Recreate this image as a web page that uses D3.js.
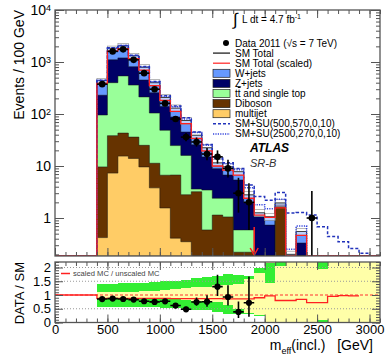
<!DOCTYPE html>
<html lang="en">
<head>
   <meta charset="UTF-8">
   <title>SR-B meff</title>
   <script src="https://cdn.jsdelivr.net/npm/d3@7"></script>
   <style>
      body { margin: 0; background: #fff; }
      svg { display: block; font-family: "Liberation Sans", Arial, Helvetica, sans-serif; }
   </style>
   <script>
      // bins of 100 GeV, lower edges
      const binLo = [0, 100, 200, 300, 400, 500, 600, 700, 800, 900, 1000, 1100, 1200, 1300, 1400, 1500,
         1600, 1700, 1800, 1900, 2000, 2100, 2200, 2300, 2400, 2500, 2600, 2700, 2800, 2900, 3000]

      // SM backgrounds (events / bin)
      const multijet = [0, 0, 0, 0, 0.42, 7.3, 15.5, 14, 9.6, 3.8, 1.56, 0.41, 0.35, 0, 0, 0,
         0, 0, 0, 0, 0, 0, 0, 0, 0, 0, 0, 0, 0, 0, 0]
      const diboson = [0, 0, 0, 0, 9.2, 31, 27.5, 22, 15.4, 7.5, 5.1, 6.3, 2.45, 3.2, 0.59, 1.14,
         1.05, 0.22, 0.22, 0, 0, 1.65, 0, 0, 0, 0, 0, 0, 0, 0, 0]
      const ttbar = [0, 0, 0, 0, 86, 362, 497, 324, 188, 93, 42, 18, 13.2, 0.4, 2.86, 1.26,
         1.35, 0.37, 0.37, 0, 0, 0, 0, 0, 0, 0, 0, 0, 0, 0, 0]
      const zjets = [0, 0, 0, 0, 134, 700, 660, 450, 237, 152, 91, 63, 29, 22, 11.5, 6.5,
         4.3, 4.8, 1.4, 1.06, 0.73, 0.15, 0, 0.33, 0, 0, 0, 0, 0, 0, 0]
      const wjets = [0, 0, 0, 0, 210, 740, 850, 510, 340, 144, 68, 42, 30, 13.4, 7.5, 2.6,
         3.0, 2.4, 0.8, 0.2, 0.33, 0.15, 0.2, 0.22, 0, 0, 0, 0, 0, 0, 0]

      // data 2011
      const data2011 = [0, 0, 0, 0, 375, 1600, 1750, 1100, 610, 300, 160, 80, 36, 29, 17, 15,
         9, 3, 2, 0, 0, 0, 0, 0, 1, 0, 0, 0, 0, 0, 0]

      // signal points stacked on SM
      const smSuA = [0, 0, 0, 0, 445, 1870, 2080, 1350, 820, 420, 225, 142, 85, 45, 26, 15,
         11.5, 9, 4.3, 2.6, 2.2, 3.1, 1.25, 1.27, 1.14, 0.68, 0.44, 0.35, 0.26, 0.21, 0]
      const smSuB = [0, 0, 0, 0, 448, 1860, 2070, 1340, 810, 415, 220, 138, 80, 44, 25, 14,
         11, 8.5, 3.8, 1.8, 1.5, 2.3, 0.25, 0.7, 0, 0, 0, 0, 0, 0, 0]

      // scaled MC / unscaled MC
      const scaledOverUnscaled = [1, 1, 1, 1, 0.88, 0.88, 0.88, 0.88, 0.88, 0.88, 0.88, 0.87, 0.87, 0.87, 0.87, 0.87,
         0.86, 0.86, 0.86, 0.9, 0.97, 0.8, 0.8, 0.84, 0.72, 0.72, 0.95, 0.98, 0.97, null, null]

      // uncertainty bands in the ratio
      const bandYellowLo = [null, null, null, null, 0.9, 0.9, 0.9, 0.9, 0.88, 0.87, 0.85, 0.84, 0.82, 0.8, 0.78, 0.75,
         0.65, 0.5, 0.35, 0.28, 0, 0, 0, 0, 0, 0, 0, 0, 0, 0, 0]
      const bandYellowHi = [null, null, null, null, 1.1, 1.1, 1.1, 1.12, 1.14, 1.15, 1.2, 1.22, 1.25, 1.3, 1.3, 1.35,
         1.35, 1.4, 1.6, 1.8, 2.2, 2.2, 2.2, 2.2, 2.2, 2.2, 2.2, 2.2, 2.2, 2.2, 2.2]
      const bandGreenLo = [null, null, null, null, 0.57, 0.57, 0.56, 0.56, 0.55, 0.55, 0.53, 0.52, 0.5, 0.45, 0.45, 0.4,
         0.3, 0.3, 0.3, 0.25, null, null, null, null, null, null, null, null, null, null, null]
      const bandGreenHi = [null, null, null, null, 1.4, 1.4, 1.42, 1.43, 1.45, 1.46, 1.5, 1.52, 1.55, 1.62, 1.65, 1.68,
         1.75, 1.72, 1.7, 2.0, null, null, null, null, null, null, null, null, null, null, null]
      const patchBin = [2000, 2100, 2500, 2500]
      const patchLo = [1.45, 2.05, 1.95, 0]
      const patchHi = [2.15, 2.2, 2.2, 0.1]

      // ticks
      const yTickMajor = [1, 10, 100, 1000, 10000]
      const rTickMajor = [0, 0.5, 1, 1.5, 2]
      const xTickMajor = [0, 500, 1000, 1500, 2000, 2500, 3000]
      const cutAt = 1900

      function visualize() {
         const W = 386, H = 357
         const BIN = 100
         const svg = d3.select('#chart').append('svg')
            .attr('width', W)
            .attr('height', H)

         // scales
         const LEFT = 55, RIGHT = 380
         const MAIN_TOP = 10, MAIN_BOTTOM = 256
         const RATIO_TOP = 262, RATIO_BOTTOM = 322.5
         const Y_MIN = 0.186
         const x = d3.scaleLinear().domain([0, 3100]).range([LEFT, RIGHT])
         const y = d3.scaleLog().domain([Y_MIN, 1e4]).range([MAIN_BOTTOM, MAIN_TOP])
         const r = d3.scaleLinear().domain([0, 2.2]).range([RATIO_BOTTOM, RATIO_TOP])
         const yc = v => y(Math.max(v, Y_MIN))
         const rc = v => r(Math.max(0, Math.min(2.2, v)))

         const steps = vals => binLo.flatMap((b, i) => [[b, vals[i]], [b + BIN, vals[i]]])

         const defs = svg.append('defs')
         defs.append('clipPath').attr('id', 'clipMain').append('rect')
            .attr('x', LEFT).attr('y', MAIN_TOP)
            .attr('width', RIGHT - LEFT).attr('height', MAIN_BOTTOM - MAIN_TOP)
         defs.append('clipPath').attr('id', 'clipRatio').append('rect')
            .attr('x', LEFT).attr('y', RATIO_TOP)
            .attr('width', RIGHT - LEFT).attr('height', RATIO_BOTTOM - RATIO_TOP)

         // ---------- main panel ----------
         const main = svg.append('g').attr('clip-path', 'url(#clipMain)')

         const layers = [
            { vals: multijet, color: '#ffcc66' },
            { vals: diboson, color: '#663300' },
            { vals: ttbar, color: '#99ff99' },
            { vals: zjets, color: '#000066' },
            { vals: wjets, color: '#6699ff' },
         ]
         let running = binLo.map(() => 0)
         layers.forEach(l => {
            running = running.map((c, i) => c + l.vals[i])
            l.cum = running
         })
         const total = running

         const area = d3.area()
            .x(d => x(d[0]))
            .y0(MAIN_BOTTOM)
            .y1(d => yc(d[1]))
         const line = d3.line()
            .x(d => x(d[0]))
            .y(d => yc(d[1]))

         layers.slice().reverse().forEach(l => {
            main.append('path')
               .datum(steps(l.cum))
               .attr('d', area)
               .attr('fill', l.color)
               .attr('stroke', '#111')
               .attr('stroke-width', 0.5)
         })

         // MC uncertainty boxes on the total
         binLo.forEach((b, i) => {
            if (total[i] <= 0 || bandYellowLo[i] == null) return
            const u = Math.min((bandYellowHi[i] - bandYellowLo[i]) / 2, 0.15)
            main.append('rect')
               .attr('x', x(b))
               .attr('width', x(b + BIN) - x(b))
               .attr('y', yc(total[i] * (1 + u)))
               .attr('height', yc(total[i] * (1 - u)) - yc(total[i] * (1 + u)))
               .attr('fill', '#fff')
               .attr('fill-opacity', 0.55)
               .attr('stroke', '#888')
               .attr('stroke-width', 0.6)
         })

         // SM total
         main.append('path')
            .datum(steps(total))
            .attr('d', line)
            .attr('fill', 'none')
            .attr('stroke', '#222')
            .attr('stroke-width', 0.8)

         // SM + SU lines
         main.append('path')
            .datum(steps(smSuB))
            .attr('d', line)
            .attr('fill', 'none')
            .attr('stroke', '#3344dd')
            .attr('stroke-width', 1.5)
            .attr('stroke-dasharray', '1.2,1.2')
         main.append('path')
            .datum(steps(smSuA))
            .attr('d', line)
            .attr('fill', 'none')
            .attr('stroke', '#2233bb')
            .attr('stroke-width', 1.5)
            .attr('stroke-dasharray', '3,2')

         // SM total scaled
         const scaledTotal = total.map((t, i) => t * (scaledOverUnscaled[i] == null ? 0 : scaledOverUnscaled[i]))
         main.append('path')
            .datum(steps(scaledTotal))
            .attr('d', line)
            .attr('fill', 'none')
            .attr('stroke', '#ff2020')
            .attr('stroke-width', 1.3)

         // cut arrow
         main.append('line')
            .attr('x1', x(cutAt)).attr('x2', x(cutAt))
            .attr('y1', y(0.67)).attr('y2', MAIN_BOTTOM - 1)
            .attr('stroke', '#ff2020').attr('stroke-width', 1.5)
         main.append('path')
            .attr('d', `M${x(cutAt) - 4},${MAIN_BOTTOM - 8}L${x(cutAt)},${MAIN_BOTTOM - 1}L${x(cutAt) + 4},${MAIN_BOTTOM - 8}`)
            .attr('fill', 'none')
            .attr('stroke', '#ff2020').attr('stroke-width', 1.5)

         // data points
         const errDn = n => n - Math.sqrt(n)
         const errUp = n => n + Math.sqrt(n + 0.75) + 1
         const obs = binLo.map((b, i) => ({ b, n: data2011[i], t: total[i] })).filter(d => d.n > 0)

         const pts = main.append('g')
         pts.selectAll('line.v').data(obs).join('line')
            .attr('x1', d => x(d.b + BIN / 2)).attr('x2', d => x(d.b + BIN / 2))
            .attr('y1', d => yc(errUp(d.n))).attr('y2', d => yc(errDn(d.n)))
            .attr('stroke', '#000').attr('stroke-width', 1.6)
         pts.selectAll('line.h').data(obs).join('line')
            .attr('x1', d => x(d.b)).attr('x2', d => x(d.b + BIN))
            .attr('y1', d => yc(d.n)).attr('y2', d => yc(d.n))
            .attr('stroke', '#000').attr('stroke-width', 1.6)
         pts.selectAll('circle').data(obs).join('circle')
            .attr('cx', d => x(d.b + BIN / 2))
            .attr('cy', d => yc(d.n))
            .attr('r', 3.3)
            .attr('fill', '#000')

         // ---------- ratio panel ----------
         const ratio = svg.append('g').attr('clip-path', 'url(#clipRatio)')
         const band = (b, lo, hi, color) => ratio.append('rect')
            .attr('x', x(b)).attr('width', x(b + BIN) - x(b))
            .attr('y', rc(hi)).attr('height', rc(lo) - rc(hi))
            .attr('fill', color)
            .attr('shape-rendering', 'crispEdges')

         binLo.forEach((b, i) => {
            if (bandYellowLo[i] == null) return
            band(b, bandYellowLo[i], bandYellowHi[i], '#ffffa8')
         })
         binLo.forEach((b, i) => {
            if (bandGreenLo[i] == null) return
            if (bandGreenHi[i] > bandYellowHi[i]) band(b, bandYellowHi[i], bandGreenHi[i], '#33ee33')
            if (bandYellowLo[i] > bandGreenLo[i]) band(b, bandGreenLo[i], bandYellowLo[i], '#33ee33')
         })
         patchBin.forEach((b, k) => band(b, patchLo[k], patchHi[k], '#33ee33'))

         // reference lines
         ;[0.5, 1.5, 2].forEach(v => {
            ratio.append('line')
               .attr('x1', LEFT).attr('x2', RIGHT)
               .attr('y1', r(v)).attr('y2', r(v))
               .attr('stroke', '#999').attr('stroke-width', 1)
               .attr('stroke-dasharray', '1,2')
         })
         ratio.append('line')
            .attr('x1', LEFT).attr('x2', RIGHT)
            .attr('y1', r(1)).attr('y2', r(1))
            .attr('stroke', '#ff3030').attr('stroke-width', 1)
            .attr('stroke-dasharray', '3,2')

         // scaled / unscaled
         const rLine = d3.line()
            .defined(d => d[1] != null)
            .x(d => x(d[0]))
            .y(d => rc(d[1]))
         ratio.append('path')
            .datum(steps(scaledOverUnscaled))
            .attr('d', rLine)
            .attr('fill', 'none')
            .attr('stroke', '#ff2020')
            .attr('stroke-width', 1.3)

         // data / SM
         const robs = obs.filter(d => d.t > 0)
         ratio.selectAll('line.v').data(robs).join('line')
            .attr('x1', d => x(d.b + BIN / 2)).attr('x2', d => x(d.b + BIN / 2))
            .attr('y1', d => rc(errUp(d.n) / d.t)).attr('y2', d => rc(errDn(d.n) / d.t))
            .attr('stroke', '#000').attr('stroke-width', 1.6)
         ratio.selectAll('line.h').data(robs).join('line')
            .attr('x1', d => x(d.b)).attr('x2', d => x(d.b + BIN))
            .attr('y1', d => rc(d.n / d.t)).attr('y2', d => rc(d.n / d.t))
            .attr('stroke', '#000').attr('stroke-width', 1.6)
         ratio.selectAll('circle').data(robs).join('circle')
            .attr('cx', d => x(d.b + BIN / 2))
            .attr('cy', d => rc(d.n / d.t))
            .attr('r', 3.1)
            .attr('fill', '#000')

         // ratio legend
         svg.append('line')
            .attr('x1', 61).attr('x2', 70).attr('y1', 273.5).attr('y2', 273.5)
            .attr('stroke', '#ff2020').attr('stroke-width', 1.5)
         svg.append('text')
            .attr('x', 73).attr('y', 276.3)
            .attr('font-size', 7.6).attr('fill', '#444')
            .text('scaled MC / unscaled MC')

         // ---------- axes ----------
         const AXIS = '#555'
         const style = g => {
            g.select('.domain').remove()
            g.selectAll('line').attr('stroke', AXIS).attr('stroke-width', 1)
            g.attr('font-family', null).attr('font-size', 13)
            g.selectAll('text').attr('fill', '#000')
         }
         const xMinor = d3.range(0, 3101, 100)
         const yMinor = []
         for (let e = -1; e < 4; e++) for (let k = 1; k < 10; k++) {
            const v = k * 10 ** e
            if (v >= Y_MIN && v <= 1e4) yMinor.push(v)
         }
         const rMinor = d3.range(0, 2.21, 0.1)

         // x ticks on both panels, top and bottom
         ;[[d3.axisBottom, MAIN_BOTTOM], [d3.axisTop, MAIN_TOP], [d3.axisBottom, RATIO_BOTTOM], [d3.axisTop, RATIO_TOP]]
            .forEach(([ax, yy]) => {
               svg.append('g').attr('transform', `translate(0,${yy})`)
                  .call(ax(x).tickValues(xMinor).tickSize(-4).tickFormat(''))
                  .call(style)
               svg.append('g').attr('transform', `translate(0,${yy})`)
                  .call(ax(x).tickValues(xTickMajor).tickSize(-8).tickFormat(''))
                  .call(style)
            })
         // x labels under the ratio panel
         svg.append('g').attr('transform', `translate(0,${RATIO_BOTTOM})`)
            .call(d3.axisBottom(x).tickValues(xTickMajor).tickSize(0).tickPadding(2).tickFormat(d3.format('d')))
            .call(style)

         // main: y ticks left and right
         ;[[d3.axisLeft, LEFT], [d3.axisRight, RIGHT]].forEach(([ax, xx]) => {
            svg.append('g').attr('transform', `translate(${xx},0)`)
               .call(ax(y).tickValues(yMinor).tickSize(-4).tickFormat(''))
               .call(style)
            svg.append('g').attr('transform', `translate(${xx},0)`)
               .call(ax(y).tickValues(yTickMajor).tickSize(-9).tickFormat(''))
               .call(style)
         })
         svg.append('g').attr('transform', `translate(${LEFT},0)`)
            .call(d3.axisLeft(y).tickValues(yTickMajor).tickSize(0).tickPadding(4).tickFormat(d => d))
            .call(style)
            .call(g => g.selectAll('text').attr('font-size', 14).each(function (d) {
               const e = Math.round(Math.log10(d))
               if (e < 2) return
               const t = d3.select(this).text(null)
               t.append('tspan').text('10')
               t.append('tspan').attr('dy', '-0.45em').attr('font-size', 9).text(e)
            }))

         // ratio: y ticks left and right
         ;[[d3.axisLeft, LEFT], [d3.axisRight, RIGHT]].forEach(([ax, xx]) => {
            svg.append('g').attr('transform', `translate(${xx},0)`)
               .call(ax(r).tickValues(rMinor).tickSize(-4).tickFormat(''))
               .call(style)
            svg.append('g').attr('transform', `translate(${xx},0)`)
               .call(ax(r).tickValues(rTickMajor).tickSize(-8).tickFormat(''))
               .call(style)
         })
         svg.append('g').attr('transform', `translate(${LEFT},0)`)
            .call(d3.axisLeft(r).tickValues(rTickMajor).tickSize(0).tickPadding(4).tickFormat(d => d))
            .call(style)

         // frames
         svg.append('rect')
            .attr('x', LEFT).attr('y', MAIN_TOP)
            .attr('width', RIGHT - LEFT).attr('height', MAIN_BOTTOM - MAIN_TOP)
            .attr('fill', 'none').attr('stroke', AXIS).attr('stroke-width', 1.3)
         svg.append('rect')
            .attr('x', LEFT).attr('y', RATIO_TOP)
            .attr('width', RIGHT - LEFT).attr('height', RATIO_BOTTOM - RATIO_TOP)
            .attr('fill', 'none').attr('stroke', AXIS).attr('stroke-width', 1.3)

         // axis titles
         svg.append('text')
            .attr('transform', 'translate(24,10) rotate(-90)')
            .attr('text-anchor', 'end')
            .attr('font-size', 14)
            .text('Events / 100 GeV')
         svg.append('text')
            .attr('transform', `translate(24,${RATIO_TOP}) rotate(-90)`)
            .attr('text-anchor', 'end')
            .attr('font-size', 13)
            .text('DATA / SM')
         const xt = svg.append('text')
            .attr('x', 373).attr('y', 350)
            .attr('text-anchor', 'end')
            .attr('font-size', 14)
         xt.append('tspan').text('m')
         xt.append('tspan').attr('dy', 3.5).attr('font-size', 9).text('eff')
         xt.append('tspan').attr('dy', -3.5).text('(incl.)\u00a0\u00a0 [GeV]')

         // ---------- legend ----------
         const LX = 213, LW = 17, TX = 235, Y0 = 43, DY = 10.1
         const lg = svg.append('g').attr('font-size', 10)

         const lumi = lg.append('g')
         lumi.append('text').attr('x', 233).attr('y', 25).attr('font-size', 17).text('\u222B')
         const lt = lumi.append('text').attr('x', 242).attr('y', 22.5)
         lt.append('tspan').text('L dt = 4.7 fb')
         lt.append('tspan').attr('dy', -4).attr('font-size', 7).text('-1')

         lg.append('circle').attr('cx', 226).attr('cy', Y0).attr('r', 3).attr('fill', '#000')
         lg.append('text').attr('x', TX).attr('y', Y0 + 3.5).text('Data 2011 (\u221As = 7 TeV)')

         const lineEntries = [
            { label: 'SM Total', color: '#222' },
            { label: 'SM Total (scaled)', color: '#ff3030' },
         ]
         lineEntries.forEach((e, k) => {
            const yy = Y0 + DY * (k + 1)
            lg.append('line').attr('x1', LX).attr('x2', LX + LW).attr('y1', yy).attr('y2', yy)
               .attr('stroke', e.color).attr('stroke-width', 1.3)
            lg.append('text').attr('x', TX).attr('y', yy + 3.5).text(e.label)
         })

         const boxEntries = [
            { label: 'W+jets', color: '#6699ff' },
            { label: 'Z+jets', color: '#000066' },
            { label: 'tt', color: '#99ff99' },
            { label: 'Diboson', color: '#663300' },
            { label: 'multijet', color: '#ffcc66' },
         ]
         boxEntries.forEach((e, k) => {
            const yy = Y0 + DY * (k + 3)
            lg.append('rect').attr('x', LX).attr('y', yy - 4).attr('width', LW).attr('height', 8)
               .attr('fill', e.color).attr('stroke', '#222').attr('stroke-width', 0.7)
            const t = lg.append('text').attr('x', TX).attr('y', yy + 3.5)
            if (e.label === 'tt') {
               t.append('tspan').text('t')
               t.append('tspan').style('text-decoration', 'overline').text('t')
               t.append('tspan').text(' and single top')
            } else {
               t.text(e.label)
            }
         })

         const suEntries = [
            { label: 'SM+SU(500,570,0,10)', color: '#2233bb', dash: '3,2' },
            { label: 'SM+SU(2500,270,0,10)', color: '#3344dd', dash: '1.2,1.2' },
         ]
         suEntries.forEach((e, k) => {
            const yy = Y0 + DY * (k + 8)
            lg.append('line').attr('x1', LX).attr('x2', LX + LW).attr('y1', yy).attr('y2', yy)
               .attr('stroke', e.color).attr('stroke-width', 1.5).attr('stroke-dasharray', e.dash)
            lg.append('text').attr('x', TX).attr('y', yy + 3.5).text(e.label)
         })

         svg.append('text')
            .attr('x', 250).attr('y', 152)
            .attr('font-size', 12).attr('font-weight', 'bold').attr('font-style', 'italic')
            .text('ATLAS')
         svg.append('text')
            .attr('x', 250).attr('y', 167)
            .attr('font-size', 11).attr('font-style', 'italic').attr('fill', '#333')
            .text('SR-B')
      }

      window.onload = visualize
   </script>
</head>
<body>
   <div id="chart"></div>
</body>
</html>
